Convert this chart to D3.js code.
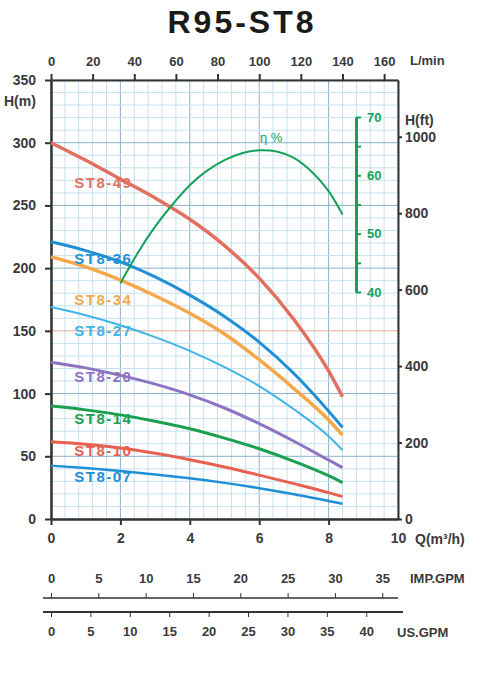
<!DOCTYPE html>
<html>
<head>
<meta charset="utf-8">
<script src="https://cdn.jsdelivr.net/npm/d3@7"></script>
<style>
  body { margin: 0; background: #fff; }
  svg { display: block; font-family: "Liberation Sans", Arial, sans-serif; }
  .axis text { font-size: 14px; font-weight: bold; fill: #3a3a3a; }
  .axis line, .axis path { stroke: #333; }
</style>
</head>
<body>
<div id="chart"></div>
<script>
// Data (Q in m³/h, H in m, efficiency in %)
const flow = [0, 1, 2, 3, 4, 5, 6, 7, 8, 8.4];
const models = ["ST8-49", "ST8-36", "ST8-34", "ST8-27", "ST8-20", "ST8-14", "ST8-10", "ST8-07"];
const head49 = [300, 286, 271, 256, 239, 218, 192, 159, 118, 97.5];
const head36 = [221, 214, 205, 193, 178.5, 161.5, 141, 116, 86, 73];
const head34 = [209, 201, 190.5, 178, 164, 147.5, 127, 104, 79, 67];
const head27 = [169, 162.5, 154.5, 145, 134, 121, 106, 87.5, 66, 55];
const head20 = [125, 120.5, 114.5, 107.5, 99, 88.5, 76, 62, 47, 41];
const head14 = [90, 87, 83, 78, 72, 64.5, 56, 46, 34.5, 29];
const head10 = [61.6, 59.6, 56.6, 52.4, 47.3, 41.5, 35, 28.2, 21, 17.8];
const head07 = [42.5, 40.6, 38.2, 35.5, 32.4, 28.8, 24.6, 19.8, 14.4, 12.2];
const effFlow = [2.0, 2.5, 3.0, 3.5, 4.0, 4.5, 5.0, 5.5, 6.0, 6.5, 7.0, 7.5, 8.0, 8.4];
const effValues = [41.5, 46.7, 51.2, 55.0, 58.3, 60.8, 62.6, 63.8, 64.3, 64.1, 63.0, 60.7, 57.3, 53.3];

// Tick labels
const qTicks = [0, 2, 4, 6, 8, 10];
const hTicks = [0, 50, 100, 150, 200, 250, 300, 350];
const ftTicks = [0, 200, 400, 600, 800, 1000];
const lminTicks = [0, 20, 40, 60, 80, 100, 120, 140, 160];
const effTicks = [40, 45, 50, 55, 60, 65, 70];
const impTicks = [0, 5, 10, 15, 20, 25, 30, 35];
const usTicks = [0, 5, 10, 15, 20, 25, 30, 35, 40];

// Styling per model
const colors = ["#e3705f", "#1f8fd6", "#f5a84a", "#3fb4e6", "#8e73c3", "#1ca04f", "#e8604f", "#1f8fd6"];
const widths = [3.5, 3, 3.5, 2, 3, 3, 3, 2.5];
const labelH = [268, 207, 175, 150, 113, 80, 54.5, 33.5];

const heads = [head49, head36, head34, head27, head20, head14, head10, head07];

// Layout
const W = 504, H = 677;
const plotLeft = 51, plotRight = 398, plotTop = 80, plotBottom = 519;

const svg = d3
  .select("#chart")
  .append("svg")
  .attr("width", W)
  .attr("height", H);

// Scales
const x = d3.scaleLinear().domain([0, 10]).range([plotLeft, plotRight]);
const y = d3.scaleLinear().domain([0, 350]).range([plotBottom, plotTop]);
const yFt = d3.scaleLinear().domain([0, 350 / 0.3048]).range([plotBottom, plotTop]);
const xLmin = d3.scaleLinear().domain([0, 10 / 0.06]).range([plotLeft, plotRight]);
const xImp = d3.scaleLinear().domain([0, 10 / 0.272765]).range([plotLeft, plotRight]);
const xUs = d3.scaleLinear().domain([0, 10 / 0.227125]).range([plotLeft, plotRight]);
const yEff = d3.scaleLinear().domain([40, 70]).range([292, 117]);

// Title
svg
  .append("text")
  .attr("x", 242)
  .attr("y", 33)
  .attr("text-anchor", "middle")
  .style("font-size", "32px")
  .style("font-weight", "bold")
  .style("letter-spacing", "3px")
  .attr("fill", "#1a1a1a")
  .text("R95-ST8");

// Grid
const grid = svg.append("g").attr("class", "grid");
const minorQ = d3.range(0, 10.001, 0.4);
const minorH = d3.range(0, 350.001, 10);

grid
  .selectAll(".vminor")
  .data(minorQ)
  .enter()
  .append("line")
  .attr("x1", (d) => x(d))
  .attr("x2", (d) => x(d))
  .attr("y1", plotTop)
  .attr("y2", plotBottom)
  .attr("stroke", (d) => (Math.abs(d / 2 - Math.round(d / 2)) < 1e-6 ? "#8ab3c9" : "#c6e1ef"))
  .attr("stroke-width", 1);

grid
  .selectAll(".hminor")
  .data(minorH)
  .enter()
  .append("line")
  .attr("x1", plotLeft)
  .attr("x2", plotRight)
  .attr("y1", (d) => y(d))
  .attr("y2", (d) => y(d))
  .attr("stroke", (d) => (d === 150 ? "#e6a898" : d % 50 === 0 ? "#8ab3c9" : "#c6e1ef"))
  .attr("stroke-width", 1);

// Axes
const axisLeft = svg
  .append("g")
  .attr("class", "axis")
  .attr("transform", `translate(${plotLeft},0)`)
  .call(d3.axisLeft(y).tickValues(hTicks).tickSize(6).tickSizeOuter(0).tickPadding(9));

const axisBottom = svg
  .append("g")
  .attr("class", "axis")
  .attr("transform", `translate(0,${plotBottom})`)
  .call(d3.axisBottom(x).tickValues(qTicks).tickSize(6).tickSizeOuter(0).tickPadding(8));

const axisTop = svg
  .append("g")
  .attr("class", "axis")
  .attr("transform", `translate(0,${plotTop})`)
  .call(d3.axisTop(xLmin).tickValues(lminTicks).tickSize(6).tickSizeOuter(0).tickPadding(8));

const axisRight = svg
  .append("g")
  .attr("class", "axis")
  .attr("transform", `translate(${plotRight},0)`)
  .call(
    d3
      .axisRight(yFt)
      .tickValues(ftTicks)
      .tickFormat(d3.format("d"))
      .tickSize(4)
      .tickSizeOuter(0)
      .tickPadding(3)
  );

axisLeft.select(".domain").attr("stroke-width", 2.5);
axisBottom.select(".domain").attr("stroke-width", 2.5);
axisTop.select(".domain").attr("stroke-width", 2);
axisRight.select(".domain").attr("stroke-width", 2);
svg.selectAll(".axis .tick line").attr("stroke-width", 2);
axisTop.selectAll("text").style("font-size", "13px");
axisBottom.selectAll(".tick").filter((d) => d === 10).select("line").remove();

// Axis titles
const axisTitle = (tx, ty, txt, anchor) =>
  svg
    .append("text")
    .attr("x", tx)
    .attr("y", ty)
    .attr("text-anchor", anchor || "start")
    .style("font-size", "14px")
    .style("font-weight", "bold")
    .attr("fill", "#3a3a3a")
    .text(txt);

axisTitle(4, 106, "H(m)");
axisTitle(405, 125, "H(ft)");
axisTitle(410, 65, "L/min").style("font-size", "13px");
axisTitle(415, 544, "Q(m³/h)");

// Pump curves
const line = d3
  .line()
  .x((d) => x(d[0]))
  .y((d) => y(d[1]))
  .curve(d3.curveMonotoneX);

heads.forEach((h, i) => {
  svg
    .append("path")
    .datum(flow.map((q, j) => [q, h[j]]))
    .attr("d", line)
    .attr("fill", "none")
    .attr("stroke", colors[i])
    .attr("stroke-width", widths[i])
    .attr("stroke-linecap", "butt");
});

// Model labels
svg
  .selectAll(".model-label")
  .data(models)
  .enter()
  .append("text")
  .attr("class", "model-label")
  .attr("x", x(0.67))
  .attr("y", (d, i) => y(labelH[i]) + 5)
  .attr("fill", (d, i) => colors[i])
  .style("font-size", "15px")
  .style("font-weight", "bold")
  .style("letter-spacing", "1.5px")
  .text((d) => d);

// Efficiency curve and scale
const effColor = "#17a05a";
const effLine = d3
  .line()
  .x((d) => x(d[0]))
  .y((d) => yEff(d[1]))
  .curve(d3.curveNatural);

svg
  .append("path")
  .datum(effFlow.map((q, j) => [q, effValues[j]]))
  .attr("d", effLine)
  .attr("fill", "none")
  .attr("stroke", effColor)
  .attr("stroke-width", 2);

const effAxis = svg
  .append("g")
  .attr("transform", "translate(356,0)")
  .call(
    d3
      .axisRight(yEff)
      .tickValues(effTicks)
      .tickSize(5)
      .tickSizeOuter(0)
      .tickPadding(6)
      .tickFormat((d) => (d % 10 === 0 ? d : ""))
  );
effAxis.select(".domain").attr("stroke", effColor).attr("stroke-width", 3);
effAxis.selectAll("line").attr("stroke", effColor).attr("stroke-width", 2);
effAxis
  .selectAll("text")
  .attr("fill", effColor)
  .style("font-size", "13px")
  .style("font-weight", "bold");

svg
  .append("text")
  .attr("x", 260)
  .attr("y", 142)
  .attr("fill", effColor)
  .style("font-size", "13px")
  .text("η %");

// GPM scales
const impAxis = svg
  .append("g")
  .attr("class", "axis")
  .attr("transform", "translate(0,598)")
  .call(d3.axisTop(xImp).tickValues(impTicks).tickSize(5).tickSizeOuter(0).tickPadding(10));
impAxis.select(".domain").attr("d", "M43,0H398").attr("stroke-width", 1.5);
impAxis.selectAll("text").style("font-size", "13px");

const usAxis = svg
  .append("g")
  .attr("class", "axis")
  .attr("transform", "translate(0,612)")
  .call(d3.axisBottom(xUs).tickValues(usTicks).tickSize(5).tickSizeOuter(0).tickPadding(10));
usAxis.select(".domain").attr("d", "M43,0H403").attr("stroke-width", 2);
usAxis.selectAll("text").style("font-size", "13px");

axisTitle(410, 583, "IMP.GPM").style("font-size", "13px");
axisTitle(397, 637, "US.GPM").style("font-size", "13px");
</script>
</body>
</html>
